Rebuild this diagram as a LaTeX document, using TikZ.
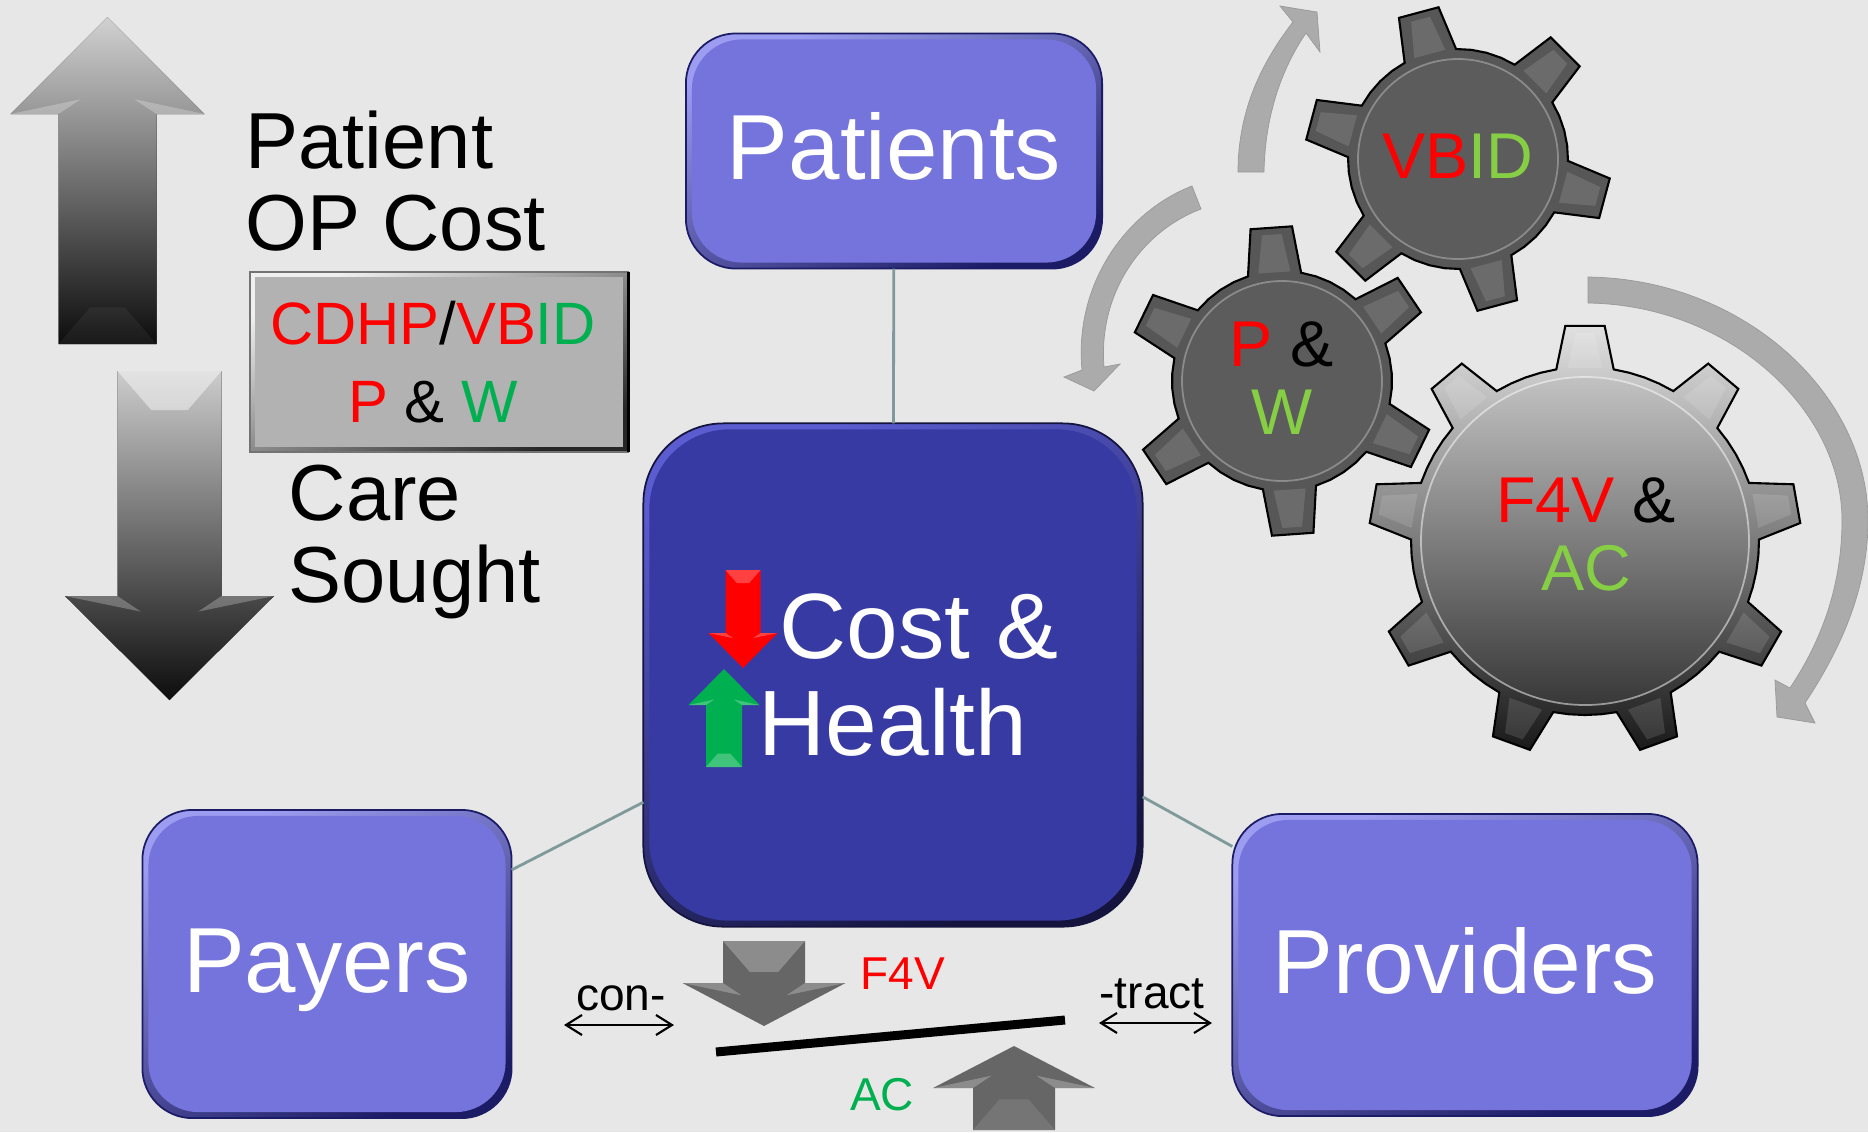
\documentclass[tikz,border=0pt]{standalone}
\usepackage{fontspec}
\setmainfont{Liberation Sans}
\usetikzlibrary{arrows.meta}
\usetikzlibrary{positioning}
\definecolor{pagegray}{HTML}{E7E7E7}
\definecolor{paleface}{HTML}{7474DC}
\definecolor{paletop}{HTML}{9C9CF0}
\definecolor{paleedge}{HTML}{1C1C66}
\definecolor{deepface}{HTML}{383AA4}
\definecolor{deeptop}{HTML}{5A5CD0}
\definecolor{deepedge}{HTML}{14143E}
\definecolor{linkgray}{HTML}{7F9A9A}
\definecolor{turngray}{HTML}{ABABAB}
\definecolor{leafgreen}{HTML}{86CF45}
\definecolor{markgreen}{HTML}{00B050}
\tikzset{facebox/.style n args={5}{draw=#3, line width=0.5pt, top color=#2, bottom color=#3,
                                   shading angle=25, rounded corners=#4, inner sep=0, outer sep=0,
                                   path picture={\fill[#1, rounded corners=#4]
                                     ([shift={(#5,-#5)}]path picture bounding box.north west) rectangle
                                     ([shift={(-#5,#5)}]path picture bounding box.south east);}}}
\tikzset{palebox/.style = {facebox={paleface}{paletop}{paleedge}{0.5cm}{0.06cm}, text=white,
                           font=\fontsize{26.3}{27}\selectfont, text height=0.66cm, text depth=0.10cm}}
\tikzset{link/.style = {draw=linkgray, line width=0.8pt}}
\tikzset{turn/.style = {fill=turngray, draw=black!40, line width=0.2pt}}
\tikzset{facet/.style = {fill=white, fill opacity=0.25}}
\tikzset{grayup/.style = {top color=black!18, middle color=black!50, bottom color=black!95}}
\tikzset{graydown/.style = {top color=black!20, middle color=black!55, bottom color=black!95}}
\tikzset{plainarrow/.style = {fill=black!60}}
\tikzset{midgear/.style = {fill=black!66, draw=black, line width=0.6pt}}
\tikzset{midgear disc/.style = {fill=black!64, draw=white, draw opacity=0.3, line width=0.5pt}}
\tikzset{biggear/.style = {top color=black!12, middle color=black!45, bottom color=black!90, draw=black, line width=0.6pt}}
\tikzset{biggear disc/.style = {top color=black!24, middle color=black!42, bottom color=black!78, draw=white, draw opacity=0.5, line width=0.5pt}}
\tikzset{gearlabel/.style = {align=center, inner sep=0, font=\fontsize{18.4}{19.35}\selectfont}}
\tikzset{sidetext/.style = {align=left, anchor=west, inner sep=0, font=\fontsize{22.6}{23.2}\selectfont}}
\tikzset{smalltext/.style = {anchor=base, inner sep=0, font=\fontsize{13.1}{15}\selectfont}}
\tikzset{pull/.style = {{Straight Barb[length=0.16cm,width=0.2cm]}-{Straight Barb[length=0.16cm,width=0.2cm]}, line width=0.6pt}}
\newcommand{\blockarrow}[8]{%
  \fill[#1] (#2,#3) -- ({#2+#4},#6) -- ({#2+#5},#6) -- ({#2+#5},#7) -- ({#2-#5},#7) -- ({#2-#5},#6) -- ({#2-#4},#6) -- cycle;
  \pgfmathsetmacro{\arrowdir}{#3<#7 ? 1 : -1}
  \fill[facet, fill opacity=#8] ({#2-#5},#7) -- ({#2+#5},#7) -- ({#2+0.35*#5},{#7-\arrowdir*0.75*#5}) -- ({#2-0.35*#5},{#7-\arrowdir*0.75*#5}) -- cycle;
  \fill[facet] ({#2-#4},#6) -- ({#2-#5},#6) -- ({#2-0.55*#5},{#6-\arrowdir*0.3*#5}) -- cycle;
  \fill[facet] ({#2+#4},#6) -- ({#2+#5},#6) -- ({#2+0.55*#5},{#6-\arrowdir*0.3*#5}) -- cycle;
}
\newcommand{\gear}[8]{%
  \begin{scope}[shift={(#1,#2)},y=0.01cm]
    \pgfmathsetmacro{\gearq}{(360/#3-2*#7)/4}
    \pgfmathsetmacro{\geart}{0.55*#7}
    \path[#8] (#4+360/#3-#7:#6)
      \foreach \t [evaluate=\t as \a using #4+\t*360/#3] in {1,...,#3} {
        -- (\a-#7:#6) -- (\a-\geart:#5) -- (\a+\geart:#5) -- (\a+#7:#6)
        -- (\a+#7+\gearq:#6) -- (\a+#7+2*\gearq:#6) -- (\a+#7+3*\gearq:#6)
      } -- cycle;
    \foreach \t [evaluate=\t as \a using #4+\t*360/#3] in {1,...,#3} {
      \fill[facet, fill opacity=0.12] (\a-0.6*#7:#6) -- (\a-0.5*\geart:#5-8) -- (\a+0.5*\geart:#5-8) -- (\a+0.6*#7:#6) -- cycle;
    }
    \path[#8 disc] (0,0) circle[radius=#6-10];
  \end{scope}
}

\begin{document}
\begin{tikzpicture}[x=0.01cm, y=-0.01cm]
    \fill [pagegray] (0,0) rectangle (1868,1132);
    \useasboundingbox (0,0) rectangle (1868,1132);

    \node [palebox, minimum width=4.16cm, minimum height=2.35cm] (patients) at (894,151) {Patients};
    \node [facebox={deepface}{deeptop}{deepedge}{0.8cm}{0.06cm}, text=white, align=center,
           font=\fontsize{26.4}{27.6}\selectfont, minimum width=4.99cm, minimum height=5.03cm]
          (costhealth) at (893,675) {\hspace*{0.52cm}Cost \&\\Health};
    \node [palebox, minimum width=3.69cm, minimum height=3.08cm] (payers) at (327,964) {Payers};
    \node [palebox, font=\fontsize{25.9}{27}\selectfont, minimum width=4.65cm, minimum height=3.02cm] (providers) at (1465,965) {Providers};

    \draw [link] (patients) -- (costhealth);
    \draw [link] (payers.27) -- (costhealth.207);
    \draw [link] (providers.153.6) -- (costhealth.-26.8);

    \blockarrow{grayup}{107.5}{17}{97}{49}{114}{344}{0.05}
    \blockarrow{graydown}{169.5}{700}{104.5}{52}{596}{371}{0.45}
    \node [sidetext] (patientcost) at (245,181) {Patient\\OP Cost};
    \node [sidetext] (caresought) at (288,542) {Care\\Sought};
    \node [facebox={black!30}{black!6}{black!85}{0pt}{0.05cm}, draw=black!55, align=center,
           font=\fontsize{17}{22.2}\selectfont, minimum width=3.78cm, minimum height=1.8cm]
          (cdhpbox) at (439,362)
          {\textcolor{red}{CDHP}/\textcolor{red}{VB}\textcolor{markgreen}{ID}\hspace*{0.12cm}\\
           \textcolor{red}{P} \& \textcolor{markgreen}{W}\hspace*{0.12cm}};
    \draw [black, line width=0.8pt] (cdhpbox.north east) -- (cdhpbox.south east);

    \blockarrow{fill=red}{743}{668}{34.5}{17.5}{633}{570}{0.25}
    \blockarrow{fill=markgreen}{724}{669}{35.5}{18}{705}{767}{0.25}

    \path [turn] (1588,277) .. controls (1745,279) and (1868,395) .. (1868,520)
      .. controls (1868,590) and (1840,650) .. (1805,703) -- (1815,723) -- (1777,717) -- (1775,680) -- (1790,688)
      .. controls (1822,640) and (1842,585) .. (1842,520)
      .. controls (1842,410) and (1730,305) .. (1588,303) -- cycle;
    \path [turn] (1192,186) .. controls (1125,212) and (1074,285) .. (1082,370) -- (1064,377) -- (1094,391)
      -- (1120,364) -- (1104,367) .. controls (1098,295) and (1140,232) .. (1201,209) -- cycle;
    \path [turn] (1238,172) .. controls (1238,110) and (1262,62) .. (1293,22) -- (1280,6) -- (1317,12)
      -- (1320,52) -- (1306,33) .. controls (1282,68) and (1265,115) .. (1264,172) -- cycle;

    \gear{1458}{159}{6}{45}{153}{110}{14}{midgear}
    \gear{1282}{381}{6}{34}{155}{110}{14}{midgear}
    \gear{1585}{541}{9}{90}{216}{174}{9.5}{biggear}
    \node [gearlabel] (vbid) at (1458,156) {\textcolor{red}{VB}\textcolor{leafgreen}{ID}};
    \node [gearlabel] (pw) at (1282,378) {\textcolor{red}{P} \&\\\textcolor{leafgreen}{W}};
    \node [gearlabel] (fvac) at (1586,534) {\textcolor{red}{F4V} \&\\\textcolor{leafgreen}{AC}};

    \blockarrow{plainarrow}{764}{1026}{81.5}{41}{983}{941}{0.25}
    \blockarrow{plainarrow}{1014}{1046}{81}{41}{1088}{1130}{0.1}
    \coordinate (beamleft) at (716,1052);
    \coordinate (beamright) at (1065,1020);
    \draw [black, line width=0.09cm] (beamleft) -- (beamright);

    \node [smalltext] (con) at (621,1010) {con-};
    \node [smalltext] (tract) at (1152,1008) {-tract};
    \node [smalltext, text=red] (fv) at (903,989) {F4V};
    \node [smalltext, text=markgreen] (ac) at (882,1110) {AC};
    \coordinate (conleft) at (564,1025);
    \coordinate (conright) at (674,1025);
    \coordinate (tractleft) at (1099,1023);
    \coordinate (tractright) at (1212,1023);
    \draw [pull] (conleft) -- (conright);
    \draw [pull] (tractleft) -- (tractright);
  \end{tikzpicture}
\end{document}
